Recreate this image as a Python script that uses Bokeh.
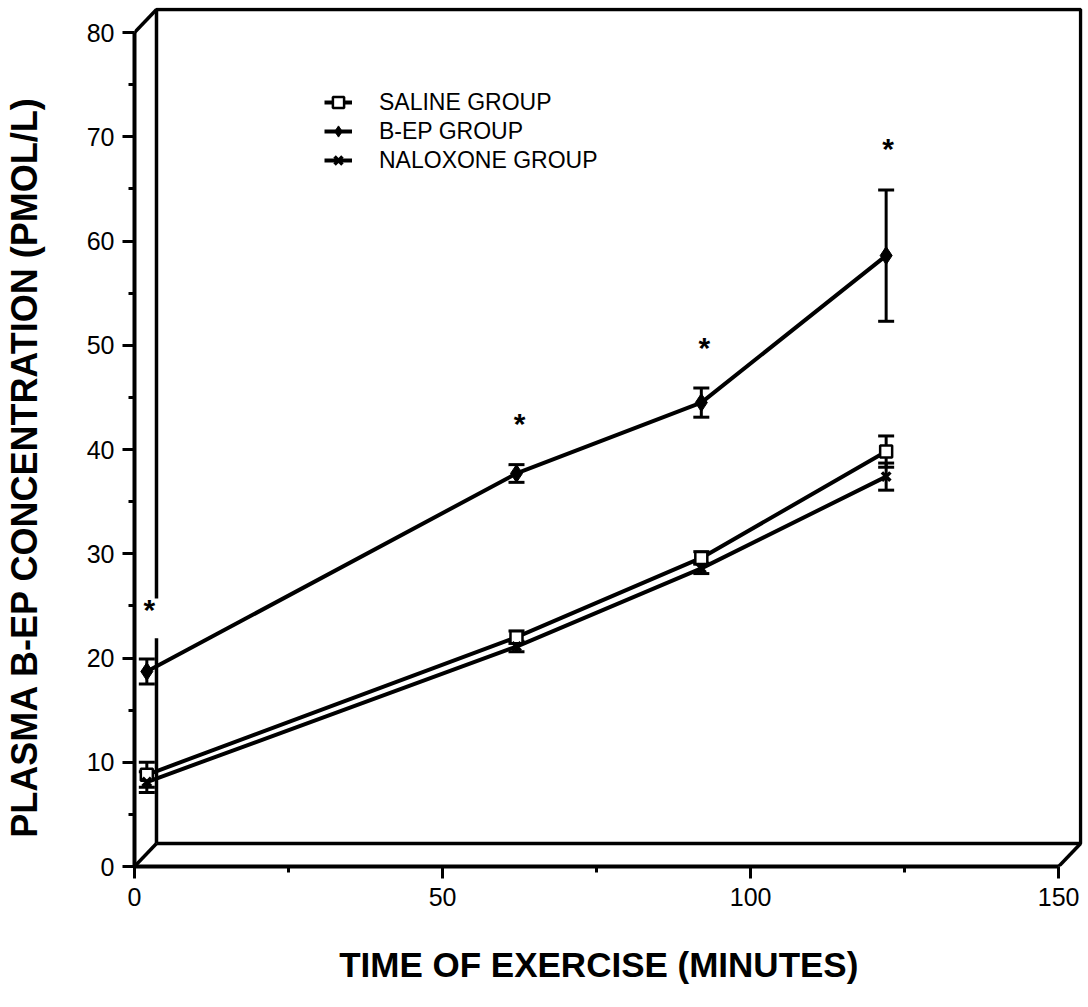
from bokeh.plotting import figure
from bokeh.models import (Range1d, SingleIntervalTicker, Whisker, ColumnDataSource,
                          Legend, LegendItem, TeeHead)
from bokeh.embed import file_html
from bokeh.resources import INLINE
from bokeh.core.properties import value

# ---- data ----
time_min = [2, 62, 92, 122]
saline = [8.8, 22.0, 29.6, 39.8]
saline_err = [1.2, 0.6, 0.6, 1.5]
bep = [18.7, 37.7, 44.5, 58.6]
bep_err = [1.2, 0.85, 1.4, 6.3]
naloxone = [8.1, 21.1, 28.6, 37.4]
naloxone_err = [1.0, 0.5, 0.5, 1.3]
sig_x = [2.4, 62.5, 92.5, 122.3]
sig_y = [24.7, 42.5, 49.8, 68.9]
sig_text = ["*", "*", "*", "*"]

X_MAX, Y_MAX = 150, 80
DX, DY = 3.57, 2.2   # depth offset of the 3-D frame (data units)

FONT = "Liberation Sans"
NBSP = "\u00a0"

p = figure(width=1088, height=1007, output_backend="svg", toolbar_location=None,
           x_range=Range1d(0, X_MAX + DX + 0.3), y_range=Range1d(0, Y_MAX + DY + 0.2),
           min_border_left=133, min_border_right=6, min_border_top=7, min_border_bottom=141,
           background_fill_color="white", border_fill_color="white")
p.outline_line_color = None
p.grid.visible = False

# ---- 3-D frame (back panel + diagonals) ----
frame_xs = [[DX, X_MAX + DX, X_MAX + DX, DX, DX],
            [0, DX], [0, DX], [X_MAX, X_MAX + DX]]
frame_ys = [[DY, DY, Y_MAX + DY, Y_MAX + DY, DY],
            [Y_MAX, Y_MAX + DY], [0, DY], [0, DY]]
p.multi_line(frame_xs, frame_ys, line_color="black", line_width=3.5)

# white patch behind first asterisk
p.quad(left=[0.2], right=[DX + 0.6], bottom=[21.9], top=[25.7],
       fill_color="white", line_color=None)

# ---- axes ----
xa = p.xaxis[0]
xa.ticker = SingleIntervalTicker(interval=50, num_minor_ticks=2)
xa.bounds = (0, X_MAX)
ya = p.yaxis[0]
ya.ticker = SingleIntervalTicker(interval=10, num_minor_ticks=2)
ya.bounds = (0, Y_MAX)
for ax in (xa, ya):
    ax.axis_line_width = 4
    ax.axis_line_color = "black"
    ax.major_tick_line_width = 3
    ax.minor_tick_line_width = 3
    ax.major_tick_in = 0
    ax.major_tick_out = 12
    ax.minor_tick_in = 0
    ax.minor_tick_out = 6
    ax.major_label_text_font = FONT
    ax.major_label_text_font_size = "25px"
    ax.major_label_text_color = "black"
    ax.axis_label_text_font = FONT
    ax.axis_label_text_font_style = "bold"
    ax.axis_label_text_color = "black"
xa.major_label_standoff = 9
ya.major_label_standoff = 8
xa.axis_label = "TIME OF EXERCISE (MINUTES)" + NBSP * 2
ya.axis_label = "PLASMA B-EP CONCENTRATION (PMOL/L)" + NBSP * 6
xa.axis_label_text_font_size = "35px"
ya.axis_label_text_font_size = "36px"
xa.axis_label_standoff = 36
ya.axis_label_standoff = 39

# ---- error bars ----
def add_whisker(ys, errs):
    src = ColumnDataSource(dict(x=time_min,
                                lo=[v - e for v, e in zip(ys, errs)],
                                hi=[v + e for v, e in zip(ys, errs)]))
    w = Whisker(source=src, base="x", lower="lo", upper="hi",
                line_width=3, line_color="black",
                upper_head=TeeHead(size=16, line_width=3, line_color="black"),
                lower_head=TeeHead(size=16, line_width=3, line_color="black"))
    p.add_layout(w)

add_whisker(saline, saline_err)
add_whisker(bep, bep_err)
add_whisker(naloxone, naloxone_err)

# ---- series ----
sal_l = p.line(time_min, saline, line_width=4, line_color="black")
nal_l = p.line(time_min, naloxone, line_width=4, line_color="black")
bep_l = p.line(time_min, bep, line_width=4, line_color="black")
sal_m = p.scatter(time_min, saline, marker="square", size=12, fill_color="white",
                  line_color="black", line_width=2.5)
bep_m = p.scatter(time_min, bep, marker="diamond", size=18, fill_color="black",
                  line_color="black", line_width=1)
nal_m = p.scatter(time_min, naloxone, marker="x", size=12, line_color="black",
                  line_width=3.5)

# significance asterisks
p.text(x=sig_x, y=sig_y, text=sig_text, text_font=value(FONT), text_font_style="bold",
       text_font_size="30px", text_align="center", text_baseline="middle",
       text_color="black")

legend = Legend(items=[LegendItem(label="SALINE GROUP", renderers=[sal_l, sal_m]),
                       LegendItem(label="B-EP GROUP", renderers=[bep_l, bep_m]),
                       LegendItem(label="NALOXONE GROUP", renderers=[nal_l, nal_m])],
                location=(190, 692), border_line_color=None, background_fill_alpha=0,
                padding=0, margin=0, spacing=1, glyph_width=28, glyph_height=28,
                label_height=28, label_standoff=27, label_text_font=FONT,
                label_text_font_size="23px", label_text_color="black")
p.add_layout(legend)

open("out.html", "w").write(file_html(p, INLINE))
